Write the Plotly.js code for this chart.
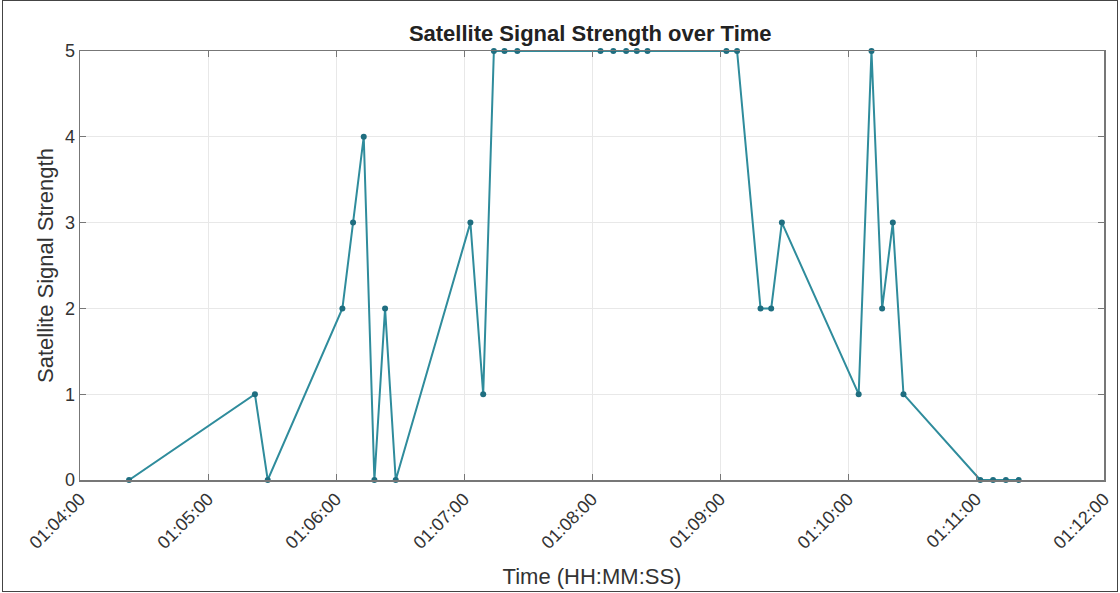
<!DOCTYPE html>
<html>
<head>
<meta charset="utf-8">
<script src="https://cdn.plot.ly/plotly-3.0.1.min.js"></script>
<style>
html,body{margin:0;padding:0;background:#fff;}
#wrap{position:relative;width:1120px;height:593px;}
#chart{width:1120px;height:593px;}
#frame{position:absolute;left:2px;top:0;width:1114px;height:590px;border:1px solid #444;pointer-events:none;}
</style>
</head>
<body>
<div id="wrap"><div id="chart"></div><div id="frame"></div></div>
<script>
const day = '2024-01-01 ';
const times = ['01:04:23','01:05:22','01:05:28','01:06:03','01:06:08','01:06:13','01:06:18','01:06:23','01:06:28',
  '01:07:03','01:07:09','01:07:14','01:07:19','01:07:25',
  '01:08:04','01:08:10','01:08:16','01:08:21','01:08:26',
  '01:09:03','01:09:08','01:09:19','01:09:24','01:09:29',
  '01:10:05','01:10:11','01:10:16','01:10:21','01:10:26',
  '01:11:02','01:11:08','01:11:14','01:11:20'];
const strength = [0,1,0,2,3,4,0,2,0,
  3,1,5,5,5,
  5,5,5,5,5,
  5,5,2,2,3,
  1,5,2,3,1,
  0,0,0,0];
const xRange = ['01:04:00','01:12:00'];
const yTicks = [0,1,2,3,4,5];

const trace = {
  x: times.map(t => day + t),
  y: strength,
  type: 'scatter',
  mode: 'lines+markers',
  line: {color: '#2f8c9c', width: 2},
  marker: {color: '#1f6e80', size: 6},
  cliponaxis: false,
  hoverinfo: 'skip'
};

const layout = {
  width: 1120, height: 593,
  margin: {l: 80, r: 16, t: 51, b: 113},
  paper_bgcolor: '#ffffff', plot_bgcolor: '#ffffff',
  font: {family: 'Liberation Sans, Arial, sans-serif', color: '#333', size: 18},
  title: {text: '<b>Satellite Signal Strength over Time</b>', x: 0.527, xanchor: 'center', y: 0.944, yanchor: 'middle',
          font: {size: 22, color: '#222'}},
  showlegend: false,
  xaxis: {
    type: 'date',
    range: xRange.map(t => day + t),
    dtick: 60000,
    tick0: day + xRange[0],
    tickformat: '%H:%M:%S',
    tickangle: -45,
    showgrid: true, gridcolor: '#e8e8e8', gridwidth: 1,
    showline: true, linecolor: '#777', linewidth: 1.5, mirror: 'ticks',
    ticks: 'inside', ticklen: 6, tickcolor: '#777',
    zeroline: false,
    tickfont: {size: 18, color: '#333'},
    title: {text: 'Time (HH:MM:SS)', font: {size: 22, color: '#333'}, standoff: 17}
  },
  yaxis: {
    range: [0, 5],
    tickvals: yTicks,
    showgrid: true, gridcolor: '#e8e8e8', gridwidth: 1,
    showline: true, linecolor: '#777', linewidth: 1.5, mirror: 'ticks',
    ticks: 'inside', ticklen: 6, tickcolor: '#777',
    zeroline: false,
    tickfont: {size: 18, color: '#333'},
    title: {text: 'Satellite Signal Strength', font: {size: 22, color: '#333'}, standoff: 5}
  }
};

Plotly.newPlot('chart', [trace], layout, {displayModeBar: false, staticPlot: true});
</script>
</body>
</html>
